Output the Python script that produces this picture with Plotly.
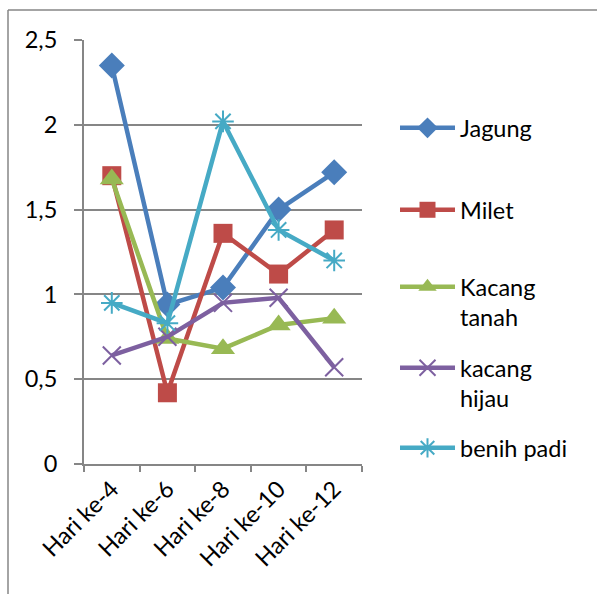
import plotly.graph_objects as go

categories = ["Hari ke-4", "Hari ke-6", "Hari ke-8", "Hari ke-10", "Hari ke-12"]
jagung = [2.35, 0.94, 1.04, 1.50, 1.72]
milet = [1.70, 0.42, 1.36, 1.12, 1.38]
kacang_tanah = [1.68, 0.74, 0.68, 0.82, 0.86]
kacang_hijau = [0.64, 0.75, 0.95, 0.98, 0.57]
benih_padi = [0.95, 0.83, 2.02, 1.38, 1.20]

series = [
    ("Jagung", jagung, "#4A7EBB", "diamond", 20),
    ("Milet", milet, "#BE4B48", "square", 19),
    ("Kacang<br>tanah", kacang_tanah, "#98B954", "triangle-up", 21),
    ("kacang<br>hijau", kacang_hijau, "#7D60A0", "x-thin-open", 18),
    ("benih padi", benih_padi, "#46AAC5", "asterisk-open", 18),
]

# plot area pixels: x 84..362, y 40..464
L, R, T, B = 84, 362, 40, 464
W, H = 597, 594
def px_x(p):
    return (p - L) / (R - L)
def px_y(p):
    return (B - p) / (B - T)

legend_y = [128, 210, 287, 368, 448]
legend_names = ["legend", "legend2", "legend3", "legend4", "legend5"]

fig = go.Figure()
for i, (name, vals, col, sym, sz) in enumerate(series):
    thin = sym.endswith("open")
    fig.add_trace(go.Scatter(
        x=categories, y=vals, name=name, mode="lines+markers",
        line=dict(color=col, width=4.5),
        marker=dict(symbol=sym, size=sz, color=col,
                    line=dict(color=col, width=2 if thin else 0)),
        legend=legend_names[i],
    ))

font = dict(family="Lato, Carlito, Calibri, sans-serif", size=23.5, color="#000000")
layout_legends = {}
for i, ln in enumerate(legend_names):
    layout_legends[ln] = dict(
        x=px_x(395), y=px_y(legend_y[i] - 22), xanchor="left", yanchor="top",
        valign="top", itemwidth=55, font=font, bgcolor="rgba(0,0,0,0)",
        borderwidth=0, itemclick=False, tracegroupgap=0,
    )

grey = "#868686"
fig.update_layout(
    width=W, height=H,
    margin=dict(l=L, r=W - R, t=T, b=H - B),
    paper_bgcolor="white", plot_bgcolor="white",
    separators=",.",
    font=font,
    showlegend=True,
    xaxis=dict(
        type="category", range=[-0.5, 4.5], showgrid=False,
        showline=True, linecolor=grey, linewidth=2,
        ticks="outside", ticklen=6, tickwidth=2, tickcolor=grey,
        tickson="boundaries", tickangle=-45, tickfont=font,
        zeroline=False,
    ),
    yaxis=dict(
        range=[0, 2.5], dtick=0.5, tick0=0, showgrid=True,
        gridcolor=grey, gridwidth=2,
        showline=True, linecolor=grey, linewidth=2,
        ticks="outside", ticklen=8, tickwidth=2, tickcolor=grey,
        tickfont=font, zeroline=False, ticklabelstandoff=12,
    ),
    shapes=[
        dict(type="line", xref="paper", yref="paper",
             x0=px_x(8), x1=px_x(W + 5), y0=px_y(10), y1=px_y(10),
             line=dict(color=grey, width=1.5)),
        dict(type="line", xref="paper", yref="paper",
             x0=px_x(8), x1=px_x(8), y0=px_y(10), y1=px_y(H + 5),
             line=dict(color=grey, width=1.5)),
    ],
    **layout_legends,
)

fig.write_html("out.html")
